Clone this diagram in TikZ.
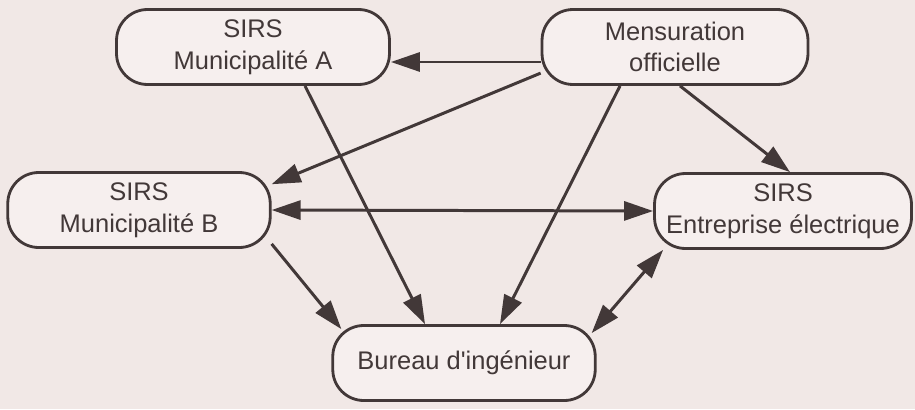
\documentclass[tikz,border=0pt]{standalone}
\usepackage{fontspec}
\setmainfont{Liberation Sans}[Ligatures=TeXOff]
\usepackage{xcolor}
\usetikzlibrary{arrows.meta,positioning,calc}

\definecolor{paper}{RGB}{241,232,230}
\definecolor{boxfill}{RGB}{246,239,238}
\definecolor{ink}{RGB}{66,56,56}

\tikzset{
    sirs/.style={draw=ink, fill=boxfill, line width=1.6pt, rounded corners=0.62cm,
        minimum width=5.25cm, minimum height=1.5cm, inner xsep=1pt,
        align=center, text=ink, font=\fontsize{14.5}{18}\selectfont},
    flow/.style={draw=ink, line width=1.7pt, -{Triangle[length=0.58cm,width=0.38cm]}},
    both/.style={flow, {Triangle[length=0.58cm,width=0.38cm]}-{Triangle[length=0.58cm,width=0.38cm]}}
}

\begin{document}
\begin{tikzpicture}[x=0.02cm, y=-0.02cm]
    \fill[paper] (0,0) rectangle (915,409);
    \useasboundingbox (0,0) rectangle (915,409);

    % Boxes
    \node[sirs, minimum width=5.46cm] (munA)   at (253,47)  {SIRS\\Municipalité A};
    \node[sirs, minimum width=5.32cm] (mens)   at (675,47)  {Mensuration\\officielle};
    \node[sirs]                       (munB)   at (139,210) {SIRS\\Municipalité B};
    \node[sirs, minimum width=5.14cm] (entr)   at (783,211) {SIRS\\Entreprise électrique};
    \node[sirs]                       (bureau) at (464,363) {Bureau d'ingénieur};

    % Data flows
    \draw[flow] ([yshift=-0.3cm]mens.west) -- ([yshift=-0.3cm]munA.east);
    \draw[flow] (mens.191) -- (munB.11);
    \draw[flow] ([xshift=-1.1cm]mens.south) -- ([xshift=0.72cm]bureau.north);
    \draw[flow] ([xshift=0.1cm]mens.south) -- ([xshift=0.14cm]entr.north);
    \draw[flow] ([xshift=1.04cm]munA.south) -- ([xshift=-0.78cm]bureau.north);
    \draw[flow] ([yshift=0.1cm]munB.south east) -- ([xshift=0.2cm,yshift=-0.1cm]bureau.north west);
    \draw[both] (munB.east) -- (entr.west);
    \draw[both] ([xshift=0.2cm]entr.south west) -- ([xshift=-0.1cm,yshift=-0.18cm]bureau.north east);
\end{tikzpicture}
\end{document}
